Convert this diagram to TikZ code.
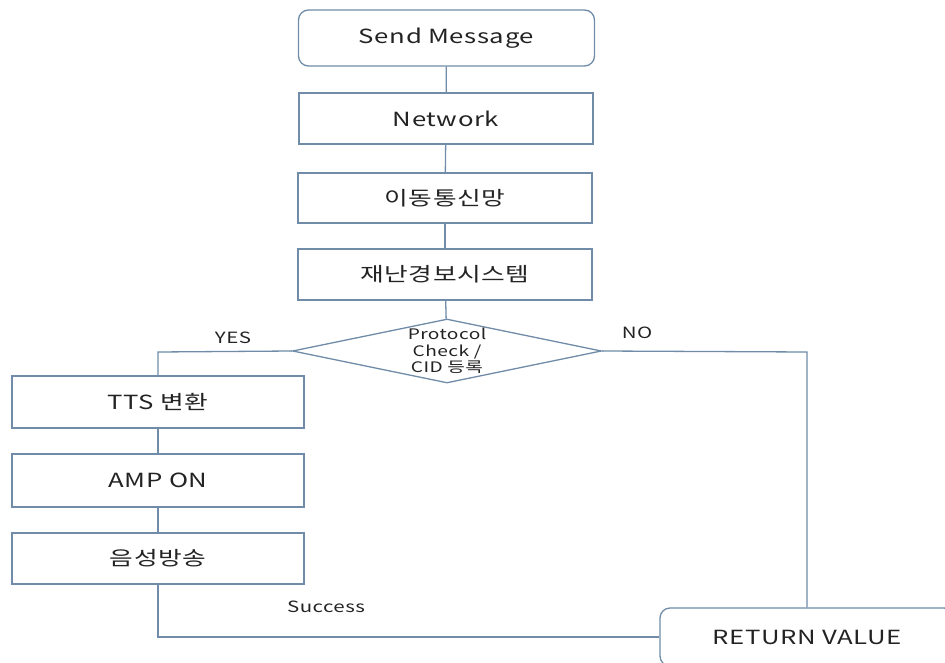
\documentclass[tikz,border=0pt]{standalone}
\usepackage{fontspec}
\setmainfont{Noto Sans CJK KR}[FakeStretch=1.32,LetterSpace=3]
\usetikzlibrary{shapes.geometric}
\definecolor{edge}{RGB}{112,140,168}
\definecolor{ink}{RGB}{35,35,35}
\begin{document}
\begin{tikzpicture}[x=1pt,y=-1pt,
  box/.style={draw=edge,line width=1.3pt,fill=white,minimum width=294pt,minimum height=51pt,inner sep=0pt,font=\fontsize{19.5}{22}\selectfont,text=ink},
  roundbox/.style={box,rounded corners=10pt},
  decision/.style={diamond,draw=edge,line width=1.3pt,fill=white,minimum width=309pt,minimum height=64pt,inner sep=0pt,aspect=4.8,font=\fontsize{14.5}{16.5}\selectfont,text=ink,align=center},
  link/.style={draw=edge,line width=1.3pt},
  tag/.style={font=\fontsize{15.5}{18}\selectfont,text=ink}]
\useasboundingbox (0,0) rectangle (945,663);
\clip (0,0) rectangle (945,663);
\fill[white] (0,0) rectangle (945,663);

% main column
\node[roundbox,minimum width=296pt,minimum height=56pt] (send) at (446.5,38) {Send Message};
\node[box] (net) at (446,118.5) {Network};
\node[box,minimum height=50pt] (mob) at (445,198) {이동통신망};
\node[box] (dis) at (445,274.5) {재난경보시스템};
\node[decision] (chk) at (447,351) {Protocol\\Check /\\CID 등록};

% YES branch
\node[box,minimum width=292pt,minimum height=52pt] (tts) at (158,402) {TTS 변환};
\node[box,minimum width=292pt,minimum height=53pt] (amp) at (158,480.5) {AMP ON};
\node[box,minimum width=292pt,minimum height=51pt] (voice) at (158,558.5) {음성방송};

% result
\node[roundbox,minimum width=294pt,minimum height=58pt] (ret) at (807,637) {RETURN VALUE};

\coordinate (yesc) at (158,352);
\coordinate (noc) at (807,352);
\coordinate (sucs) at (158,637);

% connectors
\draw[link] (send) -- (net);
\draw[link] (net) -- (mob);
\draw[link] (mob) -- (dis);
\draw[link] (dis) -- (chk);
\draw[link] (chk.west) -- (yesc) -- (tts.north);
\draw[link] (tts) -- (amp);
\draw[link] (amp) -- (voice);
\draw[link] (chk.east) -- (noc) -- (ret.north);
\draw[link] (voice.south) -- (sucs) -- (ret.west);

% branch labels
\node[tag] (yes) at (233,338) {YES};
\node[tag] (no) at (637,333) {NO};
\node[tag] (ok) at (326,607) {Success};
\end{tikzpicture}
\end{document}
